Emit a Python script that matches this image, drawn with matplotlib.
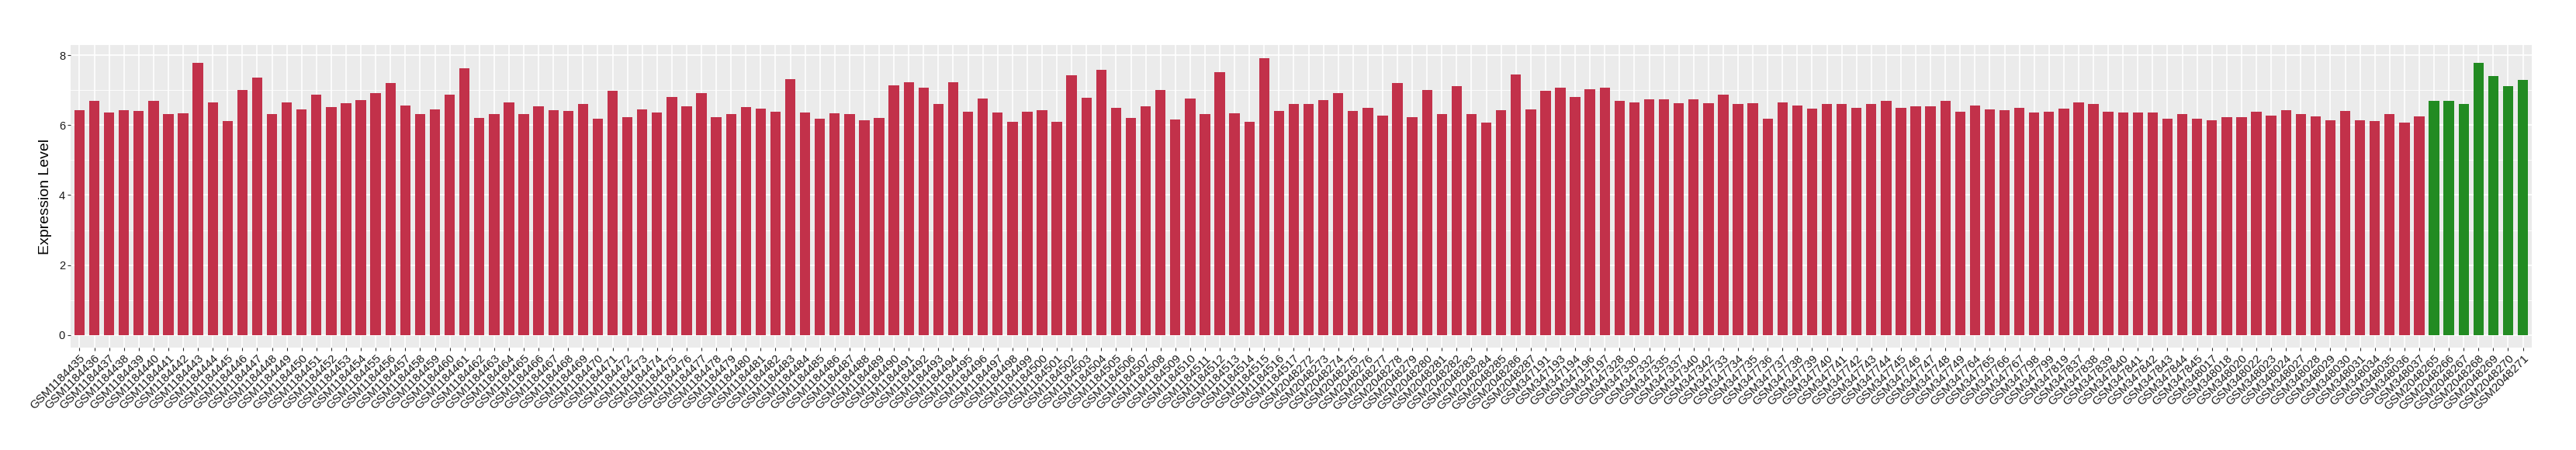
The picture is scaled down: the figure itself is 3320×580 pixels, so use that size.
import numpy as np
import matplotlib
matplotlib.use("Agg")
from matplotlib import pyplot as plt

# sample ids
ids_a = ["GSM%d" % n for n in range(1184435, 1184518)]
ids_b = ["GSM%d" % n for n in range(2048272, 2048288)]
ids_c = ["GSM%d" % n for n in [
    347191, 347193, 347194, 347196, 347197,
    347328, 347330, 347332, 347335, 347337, 347340, 347342,
    347733, 347734, 347735, 347736, 347737, 347738, 347739, 347740,
    347741, 347742, 347743, 347744, 347745, 347746, 347747, 347748, 347749,
    347764, 347765, 347766, 347767, 347798, 347799, 347819,
    347837, 347838, 347839, 347840, 347841, 347842, 347843, 347844, 347845,
    348017, 348018, 348020, 348022, 348023, 348024, 348027, 348028, 348029,
    348030, 348031, 348034, 348035, 348036, 348037]]
ids_green = ["GSM%d" % n for n in range(2048265, 2048272)]

# expression values
vals_a = [6.44, 6.70, 6.37, 6.44, 6.41, 6.70, 6.32, 6.35, 7.78, 6.66,
          6.12, 7.02, 7.37, 6.32, 6.66, 6.46, 6.88, 6.53, 6.64, 6.73,
          6.93, 7.20, 6.57, 6.31, 6.46, 6.88, 7.62, 6.21, 6.31, 6.66,
          6.32, 6.55, 6.44, 6.41, 6.60, 6.19, 6.98, 6.23, 6.46, 6.37,
          6.82, 6.55, 6.91, 6.23, 6.32, 6.53, 6.48, 6.39, 7.31, 6.37,
          6.19, 6.35, 6.32, 6.15, 6.21, 7.15, 7.24, 7.07, 6.60, 7.24,
          6.39, 6.77, 6.37, 6.10, 6.39, 6.44, 6.10, 7.44, 6.79, 7.58,
          6.50, 6.21, 6.55, 7.02, 6.17, 6.77, 6.32, 7.53, 6.35, 6.10,
          7.93, 6.41, 6.61]
vals_b = [6.60, 6.73, 6.91, 6.41, 6.50, 6.28, 7.21, 6.23, 7.02, 6.32,
          7.13, 6.32, 6.08, 6.44, 7.46, 6.46]
vals_c = [6.98, 7.08, 6.82, 7.04, 7.08,
          6.70, 6.66, 6.75, 6.75, 6.64, 6.75, 6.64,
          6.88, 6.61, 6.64, 6.19, 6.66, 6.57, 6.48, 6.61,
          6.61, 6.50, 6.61, 6.69, 6.50, 6.55, 6.55, 6.70, 6.39,
          6.57, 6.46, 6.44, 6.50, 6.37, 6.39, 6.48,
          6.66, 6.60, 6.39, 6.37, 6.37, 6.37, 6.19, 6.31, 6.19,
          6.15, 6.23, 6.23, 6.39, 6.28, 6.44, 6.31, 6.26, 6.15,
          6.41, 6.15, 6.12, 6.31, 6.08, 6.26]
vals_green = [6.69, 6.69, 6.60, 7.78, 7.40, 7.11, 7.29]

red = "#C2314A"
green = "#228B22"

if __name__ == "__main__":
    plt.rcParams['font.family'] = ['Liberation Sans', 'DejaVu Sans']

    labels = ids_a + ids_b + ids_c + ids_green
    values = vals_a + vals_b + vals_c + vals_green
    n_red = len(ids_a) + len(ids_b) + len(ids_c)
    colors = [red] * n_red + [green] * len(ids_green)
    x = np.arange(len(labels))

    fig = plt.figure(figsize=(33.2, 5.8), dpi=100)
    ax = fig.add_axes([91 / 3320, 132 / 580, 3172 / 3320, 390 / 580])
    ax.set_facecolor("#EBEBEB")
    for s in ax.spines.values():
        s.set_visible(False)

    # grid lines like ggplot
    for v in [1, 3, 5, 7]:
        ax.axhline(v, color="white", lw=0.6, zorder=0)
    for v in [0, 2, 4, 6, 8]:
        ax.axhline(v, color="white", lw=1.2, zorder=0)
    for xi in x:
        ax.axvline(xi, color="white", lw=1.2, zorder=0)

    ax.bar(x, values, width=0.7, color=colors, zorder=2)

    ax.set_xlim(-0.6, len(labels) - 1 + 0.6)
    ax.set_ylim(-0.364, 8.297)
    ax.set_yticks([0, 2, 4, 6, 8])
    ax.set_xticks(x)
    ax.set_xticklabels(labels, rotation=45, ha="right", va="top",
                       rotation_mode="anchor", fontsize=11, color="#1a1a1a")
    ax.tick_params(axis="y", labelsize=10.5, labelcolor="#1a1a1a", length=3,
                   color="#333333", width=0.8, pad=2)
    ax.tick_params(axis="x", length=3, color="#333333", width=0.8, pad=2)
    ax.set_ylabel("Expression Level", fontsize=14, labelpad=6)

    fig.savefig("out.png", dpi=100)
